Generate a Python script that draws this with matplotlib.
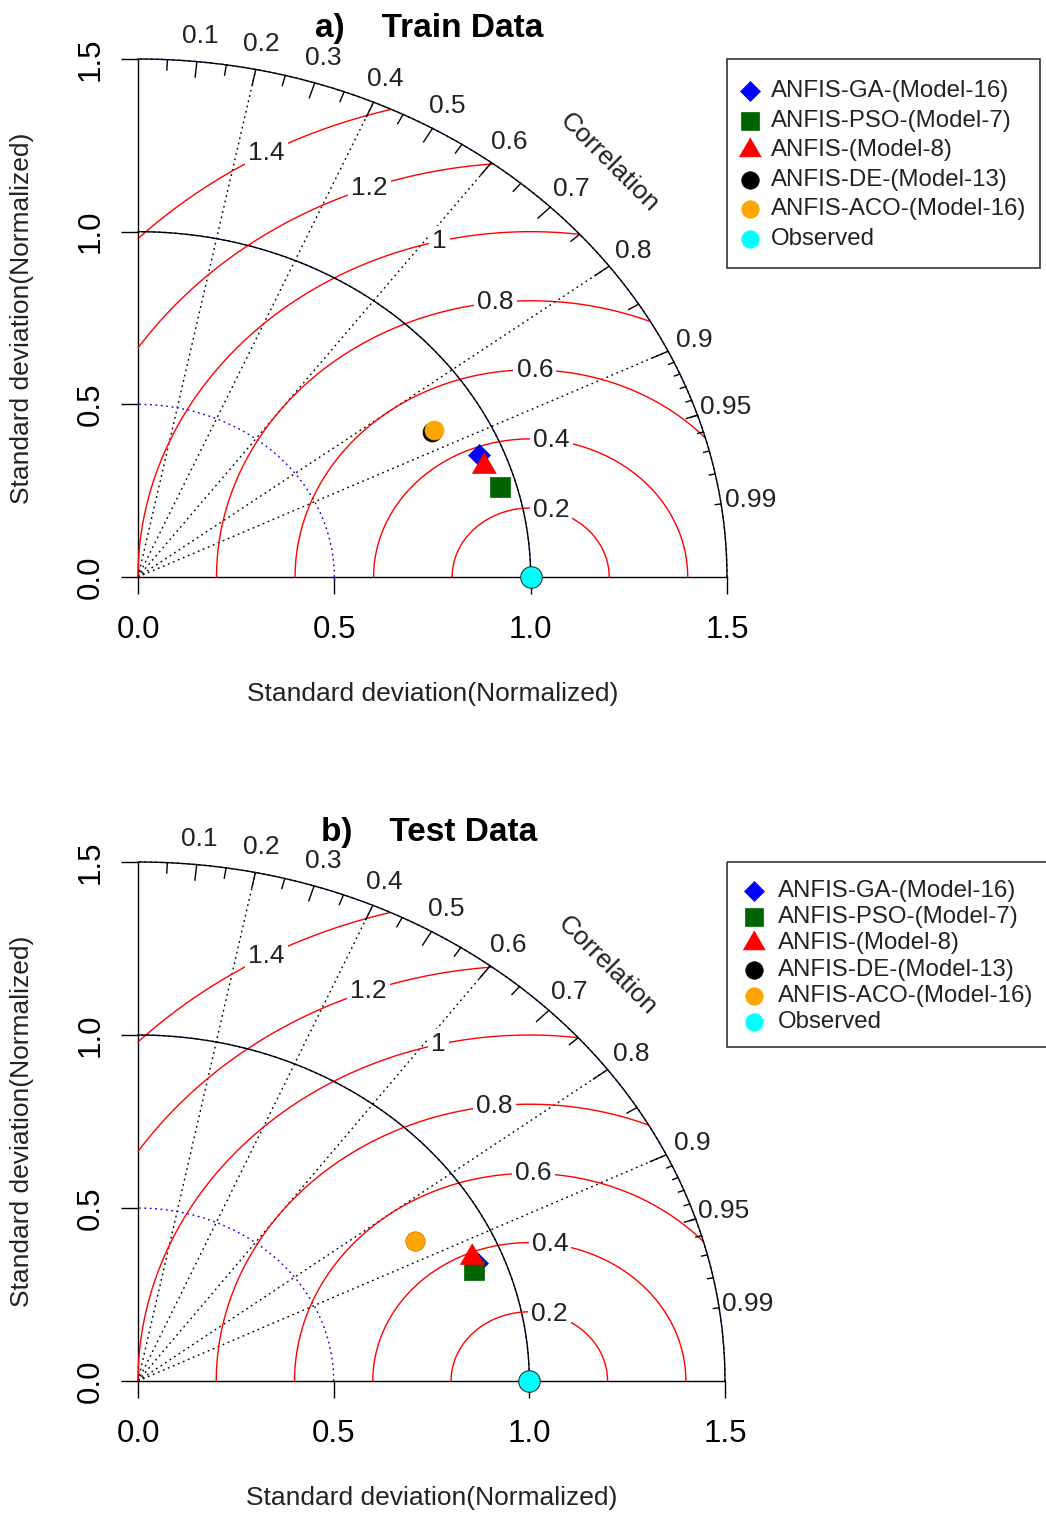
import numpy as np
import matplotlib
matplotlib.use("Agg")
import matplotlib.pyplot as plt
from matplotlib.patches import Rectangle

plt.rcParams['font.family'] = ['Liberation Sans', 'DejaVu Sans']

# ---------------- data ----------------
model_names = ["ANFIS-GA-(Model-16)", "ANFIS-PSO-(Model-7)", "ANFIS-(Model-8)",
               "ANFIS-DE-(Model-13)", "ANFIS-ACO-(Model-16)"]
observed_name = "Observed"

# normalized standard deviation and correlation of each model
train_sd = [0.937, 0.959, 0.938, 0.859, 0.866]
train_cor = [0.926, 0.962, 0.939, 0.872, 0.871]
test_sd = [0.931, 0.915, 0.926, 0.816, 0.816]
test_cor = [0.930, 0.937, 0.922, 0.868, 0.868]
observed_sd = 1.0

panel_titles = ["a)    Train Data", "b)    Test Data"]
axis_ticks = [0.0, 0.5, 1.0, 1.5]
axis_tick_labels = ["0.0", "0.5", "1.0", "1.5"]
corr_lines = [0.2, 0.4, 0.6, 0.8, 0.9]
corr_labels = [0.1, 0.2, 0.3, 0.4, 0.5, 0.6, 0.7, 0.8, 0.9, 0.95, 0.99]
rms_levels = [0.2, 0.4, 0.6, 0.8, 1.0, 1.2, 1.4]
sd_arc_levels = [0.5, 1.0, 1.5]

# ---------------- styles / layout ----------------
W, H, DPI = 1046, 1515, 100
colors = ["#0000FF", "#006400", "#FF0000", "#000000", "#FFA500"]
tri = [(0, 1), (-0.866, -0.5), (0.866, -0.5)]
markers = ["D", "s", tri, "o", "o"]
msizes = [10.7, 13.7, 20, 13.7, 13.7]
rms_label_angles = [75, 82.4, 89, 96.4, 103.4, 110, 118.7]
MAXSD = 1.5
FS = 19
DOT = (0, (1.3, 2.6))

fig = plt.figure(figsize=(W / DPI, H / DPI), dpi=DPI)


def taylor(ax, sds, cors, title, px):
    left, right, bottom, top = px
    ax.set_xlim(0, MAXSD)
    ax.set_ylim(0, MAXSD)
    for s in ["top", "right"]:
        ax.spines[s].set_visible(False)
    for s in ["left", "bottom"]:
        ax.spines[s].set_bounds(0, MAXSD)
        ax.spines[s].set_linewidth(1.0)
    ax.set_xticks(axis_ticks)
    ax.set_xticklabels(axis_tick_labels, fontsize=22.5)
    ax.set_yticks(axis_ticks)
    ax.set_yticklabels(axis_tick_labels, fontsize=22.5, rotation=90, va="center")
    ax.tick_params(axis="x", length=12.2, width=1.0, pad=15)
    ax.tick_params(axis="y", length=12.2, width=1.0, pad=11)
    ax.set_xlabel("Standard deviation(Normalized)", fontsize=FS, color="#222222")
    ax.set_ylabel("Standard deviation(Normalized)", fontsize=FS, color="#222222")
    wpx, hpx = right - left, bottom - top
    ax.xaxis.set_label_coords(0.5, -(117) / hpx)
    ax.xaxis.label.set_va("center")
    ax.yaxis.set_label_coords(-(left - 22) / wpx, 0.5)
    ax.yaxis.label.set_va("center")

    # correlation dotted lines
    for c in corr_lines:
        ax.plot([0, MAXSD * c], [0, MAXSD * np.sqrt(1 - c ** 2)], color="black",
                lw=1.0, ls=DOT, clip_on=False, zorder=1)
    # sd arcs (blue dotted)
    t = np.linspace(0, np.pi / 2, 300)
    for s in sd_arc_levels:
        ax.plot(np.cos(t) * s, np.sin(t) * s, color="blue", lw=1.0, ls=DOT,
                clip_on=False, zorder=2)
    # centred RMS arcs (red)
    th = np.linspace(0, np.pi, 1200)
    for g, a in zip(rms_levels, np.radians(rms_label_angles)):
        xc = observed_sd + g * np.cos(th)
        yc = g * np.sin(th)
        m = (xc >= 0) & (xc ** 2 + yc ** 2 <= MAXSD ** 2)
        ax.plot(xc[m], yc[m], color="red", lw=1.0, clip_on=False, zorder=3)
        ax.text(observed_sd + g * np.cos(a), g * np.sin(a), f"{g:g}", ha="center",
                va="center", fontsize=FS, color="#222222", zorder=4,
                bbox=dict(boxstyle="square,pad=0.12", fc="white", ec="none"))
    # outer arc and reference arc
    ax.plot(np.cos(t) * MAXSD, np.sin(t) * MAXSD, color="black", lw=1.0,
            clip_on=False, zorder=5)
    ax.plot(np.cos(t) * observed_sd, np.sin(t) * observed_sd, color="black", lw=1.0,
            clip_on=False, zorder=5)
    # correlation tick marks
    big = np.arccos(np.arange(1, 10) / 10)
    med = np.arccos(np.arange(0.05, 0.96, 0.1))
    sml = np.arccos(np.arange(0.91, 0.995, 0.01))
    for angs, f in [(big, 0.97), (med, 0.98), (sml, 0.99)]:
        for a in angs:
            ax.plot([np.cos(a) * MAXSD, np.cos(a) * MAXSD * f],
                    [np.sin(a) * MAXSD, np.sin(a) * MAXSD * f], color="black",
                    lw=1.0, clip_on=False, zorder=5)
    for c in corr_labels:
        a = np.arccos(c)
        ax.text(np.cos(a) * 1.05 * MAXSD, np.sin(a) * 1.05 * MAXSD, f"{c:g}",
                ha="center", va="center", fontsize=FS, color="#222222", zorder=6)
    ax.text(0.8 * MAXSD, 0.8 * MAXSD, "Correlation", rotation=-45, ha="center",
            va="center", fontsize=FS, color="#222222", zorder=6)

    # observed point
    ax.plot([observed_sd], [0], marker="o", ms=15.5, color="cyan", mec="#333333",
            mew=0.8, ls="none", clip_on=False, zorder=8)
    # models
    sds = np.asarray(sds)
    cors = np.asarray(cors)
    xs = sds * cors
    ys = sds * np.sqrt(1 - cors ** 2)
    for i in range(len(model_names)):
        ax.plot([xs[i]], [ys[i]], marker=markers[i], ms=msizes[i], color=colors[i],
                mec=colors[i], mew=0.5, ls="none", clip_on=False, zorder=9 + i)

    fig.text(429 / W, 1 - (top - 30) / H, title, ha="center",
             va="center", fontsize=24, fontweight="bold")


def legend(ov, box, mx, tx, rows):
    x0, y0, x1, y1 = box
    ov.add_patch(Rectangle((x0, y0), x1 - x0, y1 - y0, fill=False, ec="#333333",
                           lw=1.2, clip_on=False))
    names = model_names + [observed_name]
    cols = colors + ["cyan"]
    mks = markers + ["o"]
    mss = msizes + [13.7]
    for i, (n, c, mk, ms) in enumerate(zip(names, cols, mks, mss)):
        y = rows[0] + i * rows[1]
        ov.plot([mx], [y], marker=mk, ms=ms * 0.92, color=c, mec=c, mew=0.5,
                ls="none", clip_on=False)
        ov.text(tx, y, n, ha="left", va="center", fontsize=17.3, color="#222222")


panels = [
    (train_sd, train_cor, panel_titles[0], (138, 727, 577, 59)),
    (test_sd, test_cor, panel_titles[1], (138, 725, 1381, 862)),
]
for sds, cors, title, px in panels:
    left, right, bottom, top = px
    ax = fig.add_axes([left / W, 1 - bottom / H, (right - left) / W, (bottom - top) / H])
    ax.patch.set_visible(False)
    taylor(ax, sds, cors, title, px)

ov = fig.add_axes([0, 0, 1, 1])
ov.set_xlim(0, W)
ov.set_ylim(H, 0)
ov.axis("off")
ov.patch.set_visible(False)
legend(ov, (727, 59, 1040, 268), 750, 771, (91, 29.6))
legend(ov, (727, 862, 1060, 1047), 754, 778, (891, 26.2))

fig.savefig("out.png", dpi=DPI, facecolor="white")
